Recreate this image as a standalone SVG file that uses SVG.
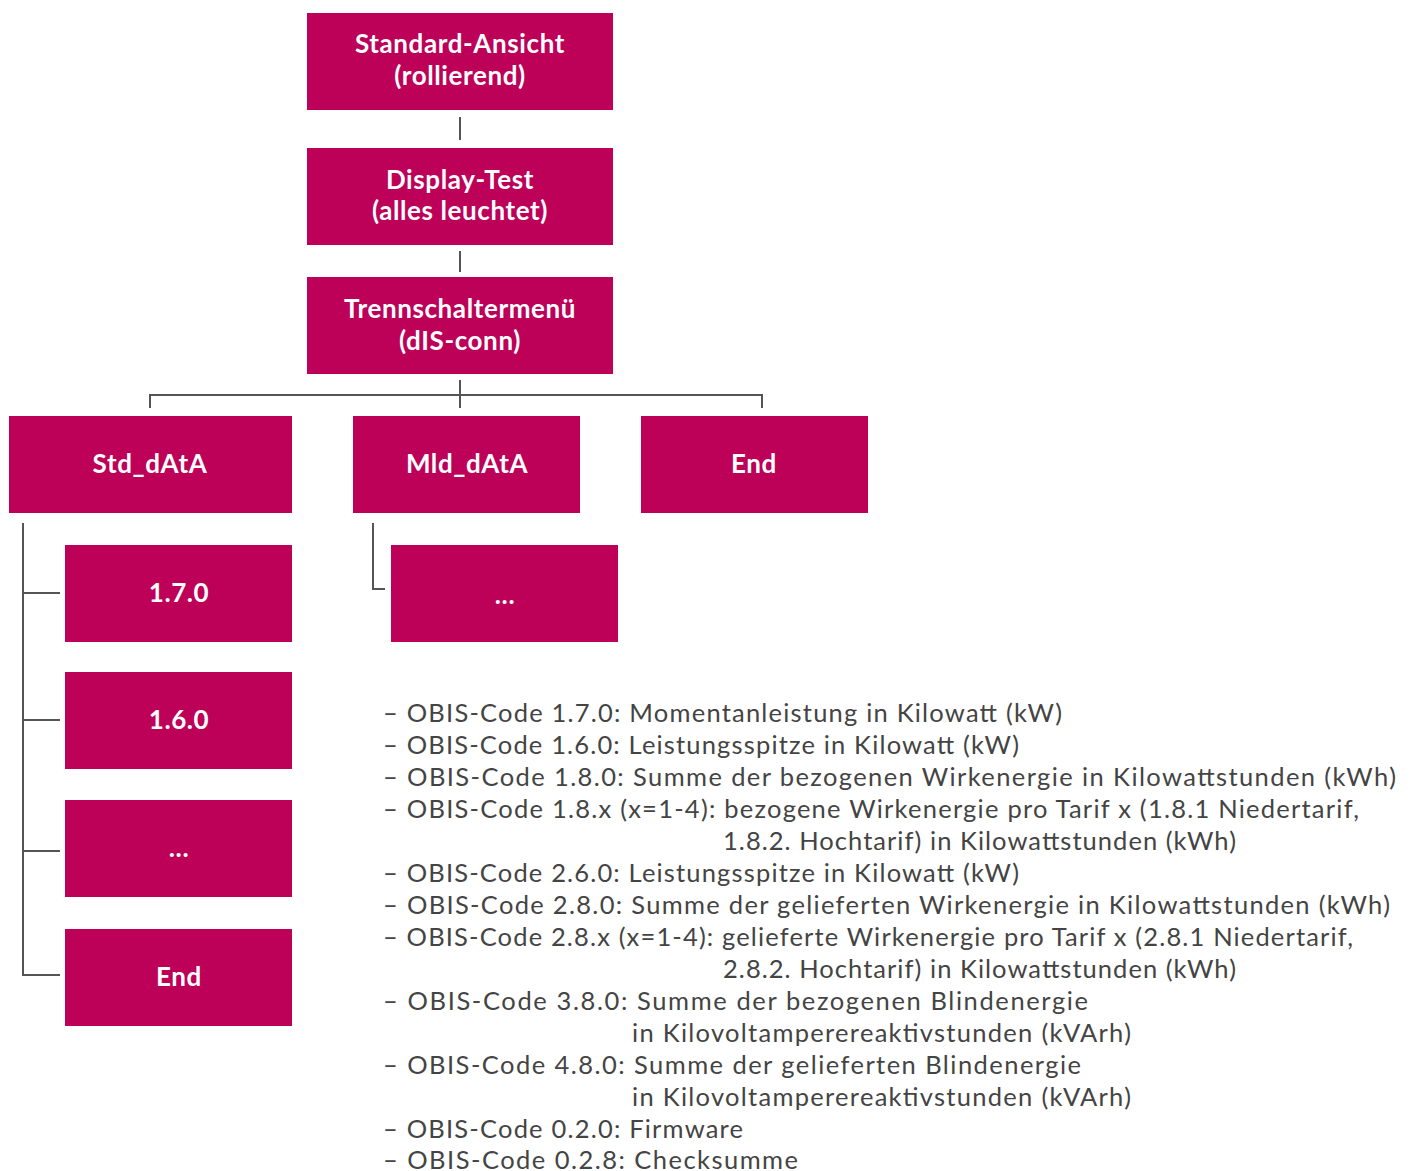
<svg xmlns="http://www.w3.org/2000/svg" width="1416" height="1171" viewBox="0 0 1416 1171">
<style>
.box{fill:#BD0058}
.bt{font-family:Lato,"Open Sans","Liberation Sans",sans-serif;font-weight:700;font-size:26px;letter-spacing:0.6px;fill:#fff;text-anchor:middle}
.ln{stroke:#555;stroke-width:2;fill:none}
.lt{font-family:Lato,"Open Sans","Liberation Sans",sans-serif;font-weight:400;font-size:25.5px;fill:#444}
</style>
<rect width="1416" height="1171" fill="#fff"/>
<g id="connectors">
<line class="ln" x1="460" y1="117" x2="460" y2="140"/>
<line class="ln" x1="460" y1="251" x2="460" y2="272"/>
<line class="ln" x1="460" y1="380" x2="460" y2="408"/>
<polyline class="ln" points="150,408 150,395 762,395 762,408"/>
<polyline class="ln" points="23,523 23,975 60,975"/>
<line class="ln" x1="23" y1="593" x2="60" y2="593"/>
<line class="ln" x1="23" y1="720" x2="60" y2="720"/>
<line class="ln" x1="23" y1="851" x2="60" y2="851"/>
<polyline class="ln" points="373,523 373,589 385,589"/>
</g>
<g id="n1"><rect class="box" x="307" y="13" width="306" height="97"/><text class="bt" x="460" y="53">Standard-Ansicht</text><text class="bt" x="460" y="85">(rollierend)</text></g>
<g id="n2"><rect class="box" x="307" y="148" width="306" height="97"/><text class="bt" x="460" y="189">Display-Test</text><text class="bt" x="460" y="220">(alles leuchtet)</text></g>
<g id="n3"><rect class="box" x="307" y="277" width="306" height="97"/><text class="bt" x="460" y="318">Trennschaltermenü</text><text class="bt" x="460" y="350">(dIS-conn)</text></g>
<g id="n4"><rect class="box" x="9" y="416" width="283" height="97"/><text class="bt" x="150" y="473">Std_dAtA</text></g>
<g id="n5"><rect class="box" x="353" y="416" width="227" height="97"/><text class="bt" x="467" y="473">Mld_dAtA</text></g>
<g id="n6"><rect class="box" x="641" y="416" width="227" height="97"/><text class="bt" x="754" y="473">End</text></g>
<g id="n7"><rect class="box" x="65" y="545" width="227" height="97"/><text class="bt" x="179" y="602">1.7.0</text></g>
<g id="n8"><rect class="box" x="65" y="672" width="227" height="97"/><text class="bt" x="179" y="729">1.6.0</text></g>
<g id="n9"><rect class="box" x="65" y="800" width="227" height="97"/><text class="bt" x="179" y="857">...</text></g>
<g id="n10"><rect class="box" x="65" y="929" width="227" height="97"/><text class="bt" x="179" y="986">End</text></g>
<g id="n11"><rect class="box" x="391" y="545" width="227" height="97"/><text class="bt" x="505" y="604">...</text></g>
<g id="legend">
<text class="lt" x="383" y="722" textLength="679" lengthAdjust="spacing">–  OBIS-Code 1.7.0: Momentanleistung in Kilowatt (kW)</text>
<text class="lt" x="383" y="754" textLength="636" lengthAdjust="spacing">–  OBIS-Code 1.6.0: Leistungsspitze in Kilowatt (kW)</text>
<text class="lt" x="383" y="786" textLength="1013" lengthAdjust="spacing">–  OBIS-Code 1.8.0: Summe der bezogenen Wirkenergie in Kilowattstunden (kWh)</text>
<text class="lt" x="383" y="818" textLength="976" lengthAdjust="spacing">–  OBIS-Code 1.8.x (x=1-4): bezogene Wirkenergie pro Tarif x (1.8.1 Niedertarif,</text>
<text class="lt" x="723" y="850" textLength="513" lengthAdjust="spacing">1.8.2. Hochtarif) in Kilowattstunden (kWh)</text>
<text class="lt" x="383" y="882" textLength="636" lengthAdjust="spacing">–  OBIS-Code 2.6.0: Leistungsspitze in Kilowatt (kW)</text>
<text class="lt" x="383" y="914" textLength="1007" lengthAdjust="spacing">–  OBIS-Code 2.8.0: Summe der gelieferten Wirkenergie in Kilowattstunden (kWh)</text>
<text class="lt" x="383" y="946" textLength="970" lengthAdjust="spacing">–  OBIS-Code 2.8.x (x=1-4): gelieferte Wirkenergie pro Tarif x (2.8.1 Niedertarif,</text>
<text class="lt" x="723" y="978" textLength="513" lengthAdjust="spacing">2.8.2. Hochtarif) in Kilowattstunden (kWh)</text>
<text class="lt" x="383" y="1010" textLength="705" lengthAdjust="spacing">–  OBIS-Code 3.8.0: Summe der bezogenen Blindenergie</text>
<text class="lt" x="632" y="1042" textLength="499" lengthAdjust="spacing">in Kilovoltamperereaktivstunden (kVArh)</text>
<text class="lt" x="383" y="1074" textLength="698" lengthAdjust="spacing">–  OBIS-Code 4.8.0: Summe der gelieferten Blindenergie</text>
<text class="lt" x="632" y="1106" textLength="499" lengthAdjust="spacing">in Kilovoltamperereaktivstunden (kVArh)</text>
<text class="lt" x="383" y="1138" textLength="360" lengthAdjust="spacing">–  OBIS-Code 0.2.0: Firmware</text>
<text class="lt" x="383" y="1169" textLength="415" lengthAdjust="spacing">–  OBIS-Code 0.2.8: Checksumme</text>
</g>
</svg>
